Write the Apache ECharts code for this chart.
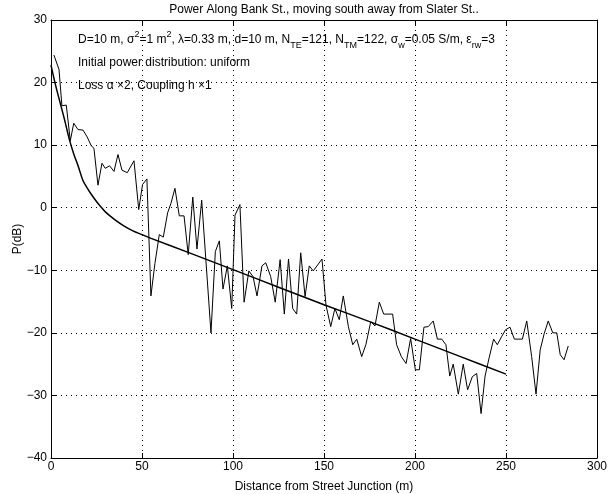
<!DOCTYPE html>
<html>
<head>
<meta charset="utf-8">
<script src="https://cdn.jsdelivr.net/npm/echarts@6/dist/echarts.min.js"></script>
<style>html,body{margin:0;padding:0;background:#fff}#c{width:610px;height:494px}</style>
</head>
<body>
<div id="c"></div>
<script>
// measured power along the street (distance in m, power in dB)
var distance = [1.6,4.4,6.0,8.4,10.6,12.5,14.8,17.6,19.9,22.1,23.6,25.8,28.0,29.8,32.2,34.6,36.8,39.0,41.9,45.6,48.2,50.3,52.7,54.9,57.1,59.5,61.7,64.1,65.9,68.1,70.5,73.1,75.4,77.9,80.2,82.8,87.9,90.3,92.5,94.5,96.9,99.3,101.1,103.8,106.1,108.7,111.0,113.2,115.9,118.0,120.7,123.2,125.9,128.2,130.5,132.8,135.0,137.2,139.6,141.9,144.1,148.9,151.1,153.7,156.0,158.4,160.6,163.4,165.8,168.0,170.7,173.0,175.7,178.0,180.4,182.8,187.7,189.9,192.5,195.1,197.6,200.2,202.4,204.9,207.3,210.0,212.3,214.7,217.0,219.1,221.0,223.8,226.5,228.9,231.5,233.9,236.3,238.5,240.8,243.2,245.2,247.6,249.8,252.2,254.6,259.0,261.4,264.1,266.5,268.8,271.0,273.2,275.7,277.9,279.8,281.9,284.2];
var power = [24.4,22.1,16.3,16.4,10.7,13.5,12.5,12.4,11.3,9.9,9.5,3.6,7.1,6.3,6.7,5.8,8.5,6.0,5.6,7.5,-0.3,3.7,4.6,-14.1,-8.9,-4.3,-4.7,-0.8,0.7,3.1,-1.3,-1.3,-7.5,1.7,-6.6,1.2,-20.0,-7.0,-5.3,-13.0,-9.3,-16.1,-1.2,0.5,-15.1,-10.1,-11.0,-14.1,-9.3,-8.8,-11.0,-15.1,-8.3,-17.0,-8.2,-16.1,-17.0,-7.2,-14.2,-9.3,-10.1,-8.2,-15.6,-19.0,-16.1,-17.9,-14.1,-19.0,-21.9,-21.0,-23.8,-21.9,-18.2,-18.9,-15.1,-17.0,-17.0,-21.9,-23.8,-24.9,-20.9,-25.9,-25.9,-19.1,-19.0,-18.1,-21.0,-21.0,-21.9,-26.9,-25.0,-29.8,-25.0,-29.1,-27.0,-26.5,-32.9,-26.9,-23.9,-21.0,-21.9,-20.6,-19.5,-19.1,-21.0,-21.0,-18.1,-23.8,-29.8,-22.7,-20.1,-18.1,-20.0,-20.0,-23.5,-24.3,-22.1];
// modelled (smooth) curve
var fitDistance = [0,2.5,5,7.5,10,12.5,15,17.5,20,22.5,25,27.5,30,35,40,45,50,55,75,100,125,150,175,200,225,250];
var fitPower = [22.8,19.6,16.8,14.0,11.0,8.6,6.6,4.4,3.1,2.0,1.0,0.1,-0.7,-1.9,-2.9,-3.7,-4.3,-4.9,-7.1,-9.9,-12.7,-15.5,-18.2,-21.0,-23.8,-26.6];
// axes
var xTicks = {min:0, max:300, step:50};
var yTicks = {min:-40, max:30, step:10};

function pairs(a,b){var r=[];for(var i=0;i<a.length;i++)r.push([a[i],b[i]]);return r;}
var FONT = '"Liberation Sans", Arial, Helvetica, sans-serif';
function minus(v){return String(v).replace('-','\u2212');}

var chart = echarts.init(document.getElementById('c'), null, {renderer:'canvas'});
var gridLine = {show:true, lineStyle:{color:'#000', width:1, type:[1,4]}};
var axisCommon = {
  axisLine:{show:true, onZero:false, lineStyle:{color:'#000', width:1}},
  axisTick:{show:true, inside:true, length:5, lineStyle:{color:'#000'}},
};
chart.setOption({
  animation:false,
  backgroundColor:'#fff',
  grid:{left:51, right:13, top:20, bottom:36, containLabel:false, outerBoundsMode:'none'},
  xAxis:[
    Object.assign({type:'value', min:xTicks.min, max:xTicks.max, interval:xTicks.step, position:'bottom',
      splitLine:gridLine,
      axisLabel:{color:'#000', fontSize:12, fontFamily:FONT, margin:3},
      name:'Distance from Street Junction (m)', nameLocation:'middle', nameGap:23,
      nameTextStyle:{color:'#000', fontSize:12, fontFamily:FONT}}, axisCommon),
    Object.assign({type:'value', min:xTicks.min, max:xTicks.max, interval:xTicks.step, position:'top',
      splitLine:{show:false}, axisLabel:{show:false}}, axisCommon)
  ],
  yAxis:[
    Object.assign({type:'value', min:yTicks.min, max:yTicks.max, interval:yTicks.step, position:'left',
      splitLine:gridLine,
      axisLabel:{color:'#000', fontSize:12, fontFamily:FONT, margin:4, formatter:minus},
      name:'P(dB)', nameLocation:'middle', nameGap:27, nameRotate:90, nameMoveOverlap:false,
      nameTextStyle:{color:'#000', fontSize:12, fontFamily:FONT}}, axisCommon),
    Object.assign({type:'value', min:yTicks.min, max:yTicks.max, interval:yTicks.step, position:'right',
      splitLine:{show:false}, axisLabel:{show:false}}, axisCommon)
  ],
  series:[
    {type:'line', data:pairs(distance,power), showSymbol:false, symbol:'none',
      lineStyle:{color:'#000', width:1}, z:3},
    {type:'line', data:pairs(fitDistance,fitPower), showSymbol:false, symbol:'none', smooth:0.35,
      lineStyle:{color:'#000', width:1.5}, z:4}
  ],
  graphic:{elements:[
    {type:'text', x:324, y:10, style:{text:'Power Along Bank St., moving south away from Slater St..',
      fill:'#000', fontSize:12, fontFamily:FONT, align:'center', verticalAlign:'middle'}},
    {type:'text', x:78, y:40, style:{
      text:'{n|D=10 m, σ}{sup|2}{n|=1 m}{sup|2}{n|, λ=0.33 m, d=10 m, N}{sub|TE}{n|=121, N}{sub|TM}{n|=122, σ}{sub|w}{n|=0.05 S/m, ε}{sub|rw}{n|=3}',
      fill:'#000', fontSize:12, fontFamily:FONT, verticalAlign:'middle', align:'left', lineHeight:20,
      rich:{
        n:{fontSize:12, fontFamily:FONT, fill:'#000', lineHeight:20, verticalAlign:'middle'},
        sup:{fontSize:9, fontFamily:FONT, fill:'#000', lineHeight:10, verticalAlign:'top'},
        sub:{fontSize:9, fontFamily:FONT, fill:'#000', lineHeight:10, verticalAlign:'bottom'}
      }}},
    {type:'text', x:78, y:63, style:{text:'Initial power distribution: uniform',
      fill:'#000', fontSize:12, fontFamily:FONT, verticalAlign:'middle'}},
    {type:'text', x:78, y:86, style:{text:'Loss α ×2, Coupling h ×1',
      fill:'#000', fontSize:12, fontFamily:FONT, verticalAlign:'middle'}}
  ]}
});
</script>
</body>
</html>
